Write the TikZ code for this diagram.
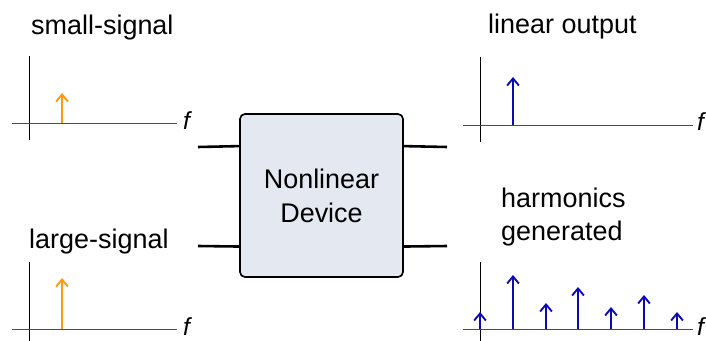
\documentclass[tikz,border=0pt]{standalone}
\usepackage{fontspec}
\setmainfont{Liberation Sans}
\usetikzlibrary{arrows.meta, calc}
\definecolor{devfill}{RGB}{228,233,241}
\definecolor{tone}{RGB}{255,153,20}
\definecolor{harm}{RGB}{10,10,180}

\begin{document}
\begin{tikzpicture}[x=0.03cm, y=-0.03cm,
  font=\fontsize{23}{29}\selectfont,
  lbl/.style={anchor=base west, inner sep=0pt},
  flbl/.style={anchor=base west, inner sep=0pt, font=\fontsize{21}{25}\selectfont\itshape},
  vax/.style={line width=0.8pt, black},
  hax/.style={line width=0.8pt, black!70},
  line/.style={line width=2.2pt, black},
  dev/.style={draw, line width=1.4pt, rounded corners=0.15cm, fill=devfill,
    minimum width=4.89cm, minimum height=4.89cm, align=center},
  spike/.style={line width=1.7pt, -{Straight Barb[length=6pt, width=10pt, line width=1.6pt]}}]

\useasboundingbox (0,0) rectangle (706,341);

% =================================================================================
% CENTRE: the device and its leads
% =================================================================================
\node[dev] (nld) at (321.5,195.5) {Nonlinear\\Device};

\coordinate (inA)  at (198,147);
\coordinate (inB)  at (198,246);
\coordinate (outA) at (447,147);
\coordinate (outB) at (447,246);
\draw[line] (inA)  -- ($(nld.north west)!0.2!(nld.south west)$);
\draw[line] (inB)  -- ($(nld.north west)!0.81!(nld.south west)$);
\draw[line] ($(nld.north east)!0.2!(nld.south east)$) -- (outA);
\draw[line] ($(nld.north east)!0.81!(nld.south east)$) -- (outB);

% =================================================================================
% LEFT: input spectra
% =================================================================================
\node[lbl] (tsmall) at (31,35) {small-signal};
\draw[vax] (29,56) -- (29,140);
\draw[hax] (12,123) -- (177,123);
\node[flbl] (f1) at (183,129) {f};
\draw[spike, tone] (62,123) -- (62,93);

\node[lbl] (tlarge) at (29,248) {large-signal};
\draw[vax] (29,262) -- (29,341);
\draw[hax] (12,329) -- (177,329);
\node[flbl] (f2) at (183,335) {f};
\draw[spike, tone] (62,329) -- (62,278);

% =================================================================================
% RIGHT: output spectra
% =================================================================================
\node[lbl] (tlin) at (488,34) {linear output};
\draw[vax] (480,57) -- (480,142);
\draw[hax] (463,125) -- (693,125);
\node[flbl] (f3) at (697,131) {f};
\draw[spike, harm] (513,125) -- (513,77);

\node[lbl] (tharm) at (501,207) {harmonics};
\node[lbl] (tgen)  at (501,240) {generated};
\draw[vax] (480,262) -- (480,341);
\draw[hax] (463,329) -- (693,329);
\node[flbl] (f4) at (697,335) {f};
\foreach \hx/\ht in {480/312, 513/275, 546/303, 578/287, 611/307, 644/295, 677/312}
  \draw[spike, harm] (\hx,329) -- (\hx,\ht);

\end{tikzpicture}
\end{document}
